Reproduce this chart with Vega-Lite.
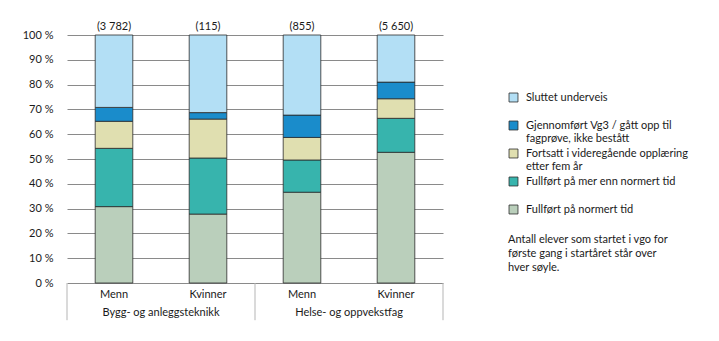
{
  "$schema": "https://vega.github.io/schema/vega-lite/v6.json",
  "width": 376,
  "height": 248,
  "autosize": {"type": "none"},
  "padding": {"left": 67, "top": 35, "right": 276, "bottom": 58},
  "config": {
    "font": "Lato",
    "view": {"stroke": null},
    "axis": {"labelFont": "Lato", "labelFontSize": 11, "labelColor": "#1a1a1a"},
    "legend": {"labelFont": "Lato", "titleFont": "Lato"}
  },
  "datasets": {
    "bars": [
      {"key": "Bygg- og anleggsteknikk|Menn", "cat": "Fullført på normert tid", "ord": 1, "val": 30.8},
      {"key": "Bygg- og anleggsteknikk|Menn", "cat": "Fullført på mer enn normert tid", "ord": 2, "val": 23.5},
      {"key": "Bygg- og anleggsteknikk|Menn", "cat": "Fortsatt i videregående opplæring etter fem år", "ord": 3, "val": 10.9},
      {"key": "Bygg- og anleggsteknikk|Menn", "cat": "Gjennomført Vg3 / gått opp til fagprøve, ikke bestått", "ord": 4, "val": 5.6},
      {"key": "Bygg- og anleggsteknikk|Menn", "cat": "Sluttet underveis", "ord": 5, "val": 29.2},
      {"key": "Bygg- og anleggsteknikk|Kvinner", "cat": "Fullført på normert tid", "ord": 1, "val": 27.8},
      {"key": "Bygg- og anleggsteknikk|Kvinner", "cat": "Fullført på mer enn normert tid", "ord": 2, "val": 22.6},
      {"key": "Bygg- og anleggsteknikk|Kvinner", "cat": "Fortsatt i videregående opplæring etter fem år", "ord": 3, "val": 15.7},
      {"key": "Bygg- og anleggsteknikk|Kvinner", "cat": "Gjennomført Vg3 / gått opp til fagprøve, ikke bestått", "ord": 4, "val": 2.6},
      {"key": "Bygg- og anleggsteknikk|Kvinner", "cat": "Sluttet underveis", "ord": 5, "val": 31.3},
      {"key": "Helse- og oppvekstfag|Menn", "cat": "Fullført på normert tid", "ord": 1, "val": 36.6},
      {"key": "Helse- og oppvekstfag|Menn", "cat": "Fullført på mer enn normert tid", "ord": 2, "val": 13.0},
      {"key": "Helse- og oppvekstfag|Menn", "cat": "Fortsatt i videregående opplæring etter fem år", "ord": 3, "val": 9.1},
      {"key": "Helse- og oppvekstfag|Menn", "cat": "Gjennomført Vg3 / gått opp til fagprøve, ikke bestått", "ord": 4, "val": 9.0},
      {"key": "Helse- og oppvekstfag|Menn", "cat": "Sluttet underveis", "ord": 5, "val": 32.3},
      {"key": "Helse- og oppvekstfag|Kvinner", "cat": "Fullført på normert tid", "ord": 1, "val": 52.7},
      {"key": "Helse- og oppvekstfag|Kvinner", "cat": "Fullført på mer enn normert tid", "ord": 2, "val": 13.7},
      {"key": "Helse- og oppvekstfag|Kvinner", "cat": "Fortsatt i videregående opplæring etter fem år", "ord": 3, "val": 7.9},
      {"key": "Helse- og oppvekstfag|Kvinner", "cat": "Gjennomført Vg3 / gått opp til fagprøve, ikke bestått", "ord": 4, "val": 6.7},
      {"key": "Helse- og oppvekstfag|Kvinner", "cat": "Sluttet underveis", "ord": 5, "val": 19.0}
    ],
    "totals": [
      {"key": "Bygg- og anleggsteknikk|Menn", "label": "(3 782)"},
      {"key": "Bygg- og anleggsteknikk|Kvinner", "label": "(115)"},
      {"key": "Helse- og oppvekstfag|Menn", "label": "(855)"},
      {"key": "Helse- og oppvekstfag|Kvinner", "label": "(5 650)"}
    ],
    "groups": [
      {"key": "Bygg- og anleggsteknikk|Menn", "group": "Bygg- og anleggsteknikk"},
      {"key": "Helse- og oppvekstfag|Menn", "group": "Helse- og oppvekstfag"}
    ],
    "edgesStart": [
      {"key": "Bygg- og anleggsteknikk|Menn"},
      {"key": "Helse- og oppvekstfag|Menn"}
    ],
    "edgesEnd": [
      {"key": "Helse- og oppvekstfag|Kvinner"}
    ]
  },
  "encoding": {
    "x": {
      "field": "key",
      "type": "nominal",
      "sort": ["Bygg- og anleggsteknikk|Menn", "Bygg- og anleggsteknikk|Kvinner", "Helse- og oppvekstfag|Menn", "Helse- og oppvekstfag|Kvinner"],
      "scale": {"paddingInner": 0.6, "paddingOuter": 0.3},
      "axis": {"title": null, "domain": false, "ticks": false, "labelAngle": 0, "labelPadding": 5, "labelExpr": "split(datum.label, '|')[1]"}
    }
  },
  "layer": [
    {
      "data": {"name": "bars"},
      "mark": {"type": "bar", "stroke": "#2b2b2b", "strokeWidth": 0.8},
      "encoding": {
        "y": {
          "field": "val",
          "type": "quantitative",
          "stack": "zero",
          "scale": {"domain": [0, 100], "nice": false},
          "axis": {"title": null, "values": [0, 10, 20, 30, 40, 50, 60, 70, 80, 90, 100], "labelOverlap": false, "labelExpr": "datum.value + ' %'", "grid": true, "gridColor": "#8a8a8a", "gridWidth": 1, "domain": false, "ticks": false, "labelPadding": 14}
        },
        "order": {"field": "ord", "type": "quantitative"},
        "color": {
          "field": "cat",
          "type": "nominal",
          "scale": {
            "domain": ["Sluttet underveis", "Gjennomført Vg3 / gått opp til fagprøve, ikke bestått", "Fortsatt i videregående opplæring etter fem år", "Fullført på mer enn normert tid", "Fullført på normert tid"],
            "range": ["#b3dff5", "#1a8ccb", "#e0dfb0", "#37b4ad", "#bacfbb"]
          },
          "legend": {
            "orient": "none",
            "legendX": 441,
            "legendY": 57,
            "title": ["Antall elever som startet i vgo for", "første gang i startåret står over", "hver søyle."],
            "titleOrient": "bottom",
            "titleAnchor": "start",
            "titleFontWeight": "normal",
            "titleFontSize": 11,
            "titleLineHeight": 14,
            "titleColor": "#1a1a1a",
            "titlePadding": 18,
            "titleLimit": 300,
            "gridAlign": "all",
            "rowPadding": 3,
            "symbolType": "square",
            "symbolSize": 80,
            "symbolStrokeColor": "#2b2b2b",
            "symbolStrokeWidth": 0.8,
            "symbolOpacity": 1,
            "labelFontSize": 11,
            "labelColor": "#1a1a1a",
            "labelLimit": 300,
            "labelOffset": 7,
            "labelExpr": "datum.label == 'Gjennomført Vg3 / gått opp til fagprøve, ikke bestått' ? ['Gjennomført Vg3 / gått opp til', 'fagprøve, ikke bestått'] : datum.label == 'Fortsatt i videregående opplæring etter fem år' ? ['Fortsatt i videregående opplæring', 'etter fem år'] : datum.label"
          }
        }
      }
    },
    {
      "data": {"name": "totals"},
      "mark": {"type": "text", "baseline": "bottom", "dy": -3, "fontSize": 11, "color": "#1a1a1a"},
      "encoding": {
        "y": {"datum": 100, "type": "quantitative",
          "axis": {"title": null, "values": [0, 10, 20, 30, 40, 50, 60, 70, 80, 90, 100], "labelOverlap": false, "labelExpr": "datum.value + ' %'", "grid": true, "gridColor": "#8a8a8a", "gridWidth": 1, "domain": false, "ticks": false, "labelPadding": 14}},
        "text": {"field": "label"}
      }
    },
    {
      "data": {"name": "groups"},
      "mark": {"type": "text", "baseline": "middle", "fontSize": 11, "color": "#1a1a1a"},
      "encoding": {
        "x": {"field": "key", "type": "nominal", "bandPosition": 1.75},
        "y": {"datum": -12, "type": "quantitative",
          "axis": {"title": null, "values": [0, 10, 20, 30, 40, 50, 60, 70, 80, 90, 100], "labelOverlap": false, "labelExpr": "datum.value + ' %'", "grid": true, "gridColor": "#8a8a8a", "gridWidth": 1, "domain": false, "ticks": false, "labelPadding": 14}},
        "text": {"field": "group"}
      }
    },
    {
      "data": {"name": "edgesStart"},
      "mark": {"type": "rule", "color": "#b5b5b5", "strokeWidth": 1},
      "encoding": {
        "x": {"field": "key", "type": "nominal", "bandPosition": -0.75},
        "y": {"datum": 0, "type": "quantitative",
          "axis": {"title": null, "values": [0, 10, 20, 30, 40, 50, 60, 70, 80, 90, 100], "labelOverlap": false, "labelExpr": "datum.value + ' %'", "grid": true, "gridColor": "#8a8a8a", "gridWidth": 1, "domain": false, "ticks": false, "labelPadding": 14}},
        "y2": {"datum": -15}
      }
    },
    {
      "data": {"name": "edgesEnd"},
      "mark": {"type": "rule", "color": "#b5b5b5", "strokeWidth": 1},
      "encoding": {
        "x": {"field": "key", "type": "nominal", "bandPosition": 1.75},
        "y": {"datum": 0, "type": "quantitative",
          "axis": {"title": null, "values": [0, 10, 20, 30, 40, 50, 60, 70, 80, 90, 100], "labelOverlap": false, "labelExpr": "datum.value + ' %'", "grid": true, "gridColor": "#8a8a8a", "gridWidth": 1, "domain": false, "ticks": false, "labelPadding": 14}},
        "y2": {"datum": -15}
      }
    }
  ]
}
